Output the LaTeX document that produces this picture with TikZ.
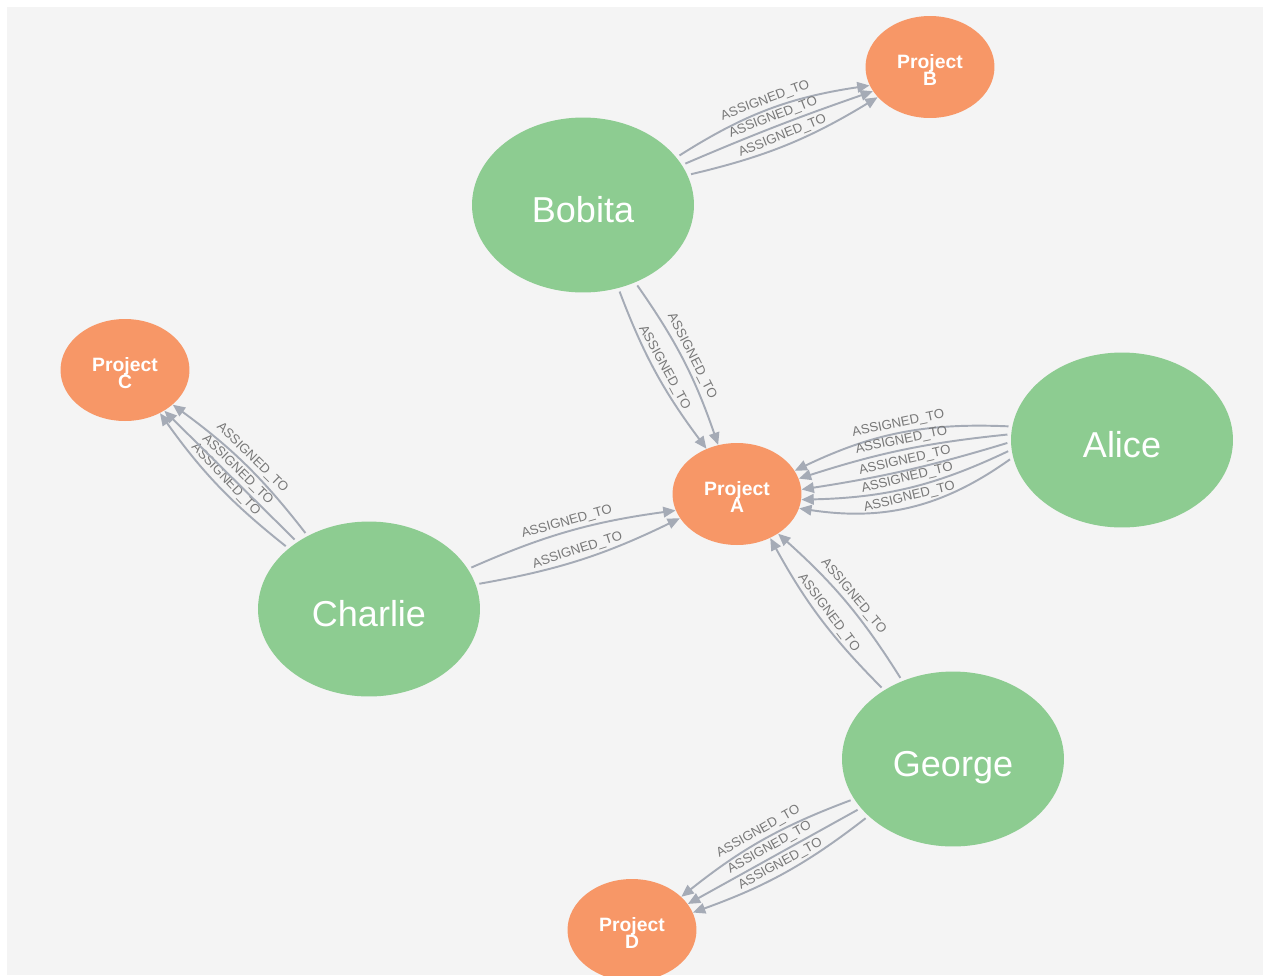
\documentclass[tikz,border=0pt]{standalone}
\usepackage{fontspec}
\setmainfont{Liberation Sans}
\usetikzlibrary{shapes.geometric,arrows.meta}
\definecolor{bg}{RGB}{244,244,244}
\definecolor{ngreen}{RGB}{141,204,145}
\definecolor{norange}{RGB}{247,151,103}
\definecolor{edgec}{RGB}{165,171,182}
\definecolor{labc}{RGB}{120,120,120}
\newcommand{\pname}[1]{\raisebox{-2.4pt}[0.73em][0pt]{#1}}
\newcommand{\projname}[1]{\rule{0pt}{11.4pt}Project\\#1}
\begin{document}
\begin{tikzpicture}[x=0.02cm,y=-0.02cm,
 person/.style={ellipse, fill=ngreen, minimum width=4.44cm, minimum height=3.5cm, inner sep=0pt, text=white, font=\fontsize{20.5}{24}\selectfont},
 project/.style={ellipse, fill=norange, minimum width=2.58cm, minimum height=2.04cm, inner sep=0pt, text=white, font=\bfseries\fontsize{11}{10}\selectfont, align=center},
 rel/.style={draw=edgec, line width=1.1pt, shorten <=2pt, -{Triangle[length=7pt,width=6pt]}},
 lab/.style={sloped, above, font=\fontsize{7.5}{8}\selectfont, text=labc, inner sep=1.5pt}
]
\fill[white] (0,0) rectangle (1265,975);
\useasboundingbox (0,0) rectangle (1265,975);
\clip (0,0) rectangle (1265,975);
\fill[bg] (7,7) rectangle (1263,975);

\node[person] (bob) at (583,205) {\pname{Bobita}};
\node[person] (alice) at (1122,440) {\pname{Alice}};
\node[person] (charlie) at (369,609) {\pname{Charlie}};
\node[person] (george) at (953,759) {\pname{George}};
\node[project] (pa) at (737,494) {\projname{A}};
\node[project] (pb) at (930,67) {\projname{B}};
\node[project] (pc) at (125,370) {\projname{C}};
\node[project] (pd) at (632,930) {\projname{D}};

% Bobita -> Project B
\draw[rel] (bob.27) to[bend left=12] node[lab]{ASSIGNED\_TO} (pb.197);
\draw[rel] (bob.22) to[bend left=2] node[lab]{ASSIGNED\_TO} (pb.203);
\draw[rel] (bob.16) to[bend right=9] node[lab]{ASSIGNED\_TO} (pb.210);

% Bobita -> Project A
\draw[rel] (bob.-67) to[bend right=8] node[lab]{ASSIGNED\_TO} (pa.124);
\draw[rel] (bob.-56) to[bend left=8] node[lab]{ASSIGNED\_TO} (pa.111);

% Alice -> Project A
\draw[rel] (alice.173) to[bend right=14] node[lab]{ASSIGNED\_TO} (pa.22);
\draw[rel] (alice.177) to[bend right=6] node[lab]{ASSIGNED\_TO} (pa.14);
\draw[rel] (alice.181) to[bend left=4] node[lab]{ASSIGNED\_TO} (pa.4);
\draw[rel] (alice.185) to[bend left=12] node[lab]{ASSIGNED\_TO} (pa.-5);
\draw[rel] (alice.189) to[bend left=22] node[lab]{ASSIGNED\_TO} (pa.-13);

% Charlie -> Project C
\draw[rel] (charlie.143) to[bend left=8] node[lab]{ASSIGNED\_TO} (pc.-51);
\draw[rel] (charlie.137) to node[lab]{ASSIGNED\_TO} (pc.-46);
\draw[rel] (charlie.130) to[bend right=8] node[lab]{ASSIGNED\_TO} (pc.-36);

% Charlie -> Project A
\draw[rel] (charlie.22) to[bend left=8] node[lab]{ASSIGNED\_TO} (pa.195);
\draw[rel] (charlie.13) to[bend right=8] node[lab]{ASSIGNED\_TO} (pa.203);

% George -> Project A
\draw[rel] (george.135) to[bend left=8] node[lab]{ASSIGNED\_TO} (pa.-53);
\draw[rel] (george.123) to[bend right=8] node[lab]{ASSIGNED\_TO} (pa.-44);

% George -> Project D
\draw[rel] (george.202) to[bend right=9] node[lab]{ASSIGNED\_TO} (pd.34);
\draw[rel] (george.208) to node[lab]{ASSIGNED\_TO} (pd.25);
\draw[rel] (george.214) to[bend left=9] node[lab]{ASSIGNED\_TO} (pd.16);
\end{tikzpicture}
\end{document}
